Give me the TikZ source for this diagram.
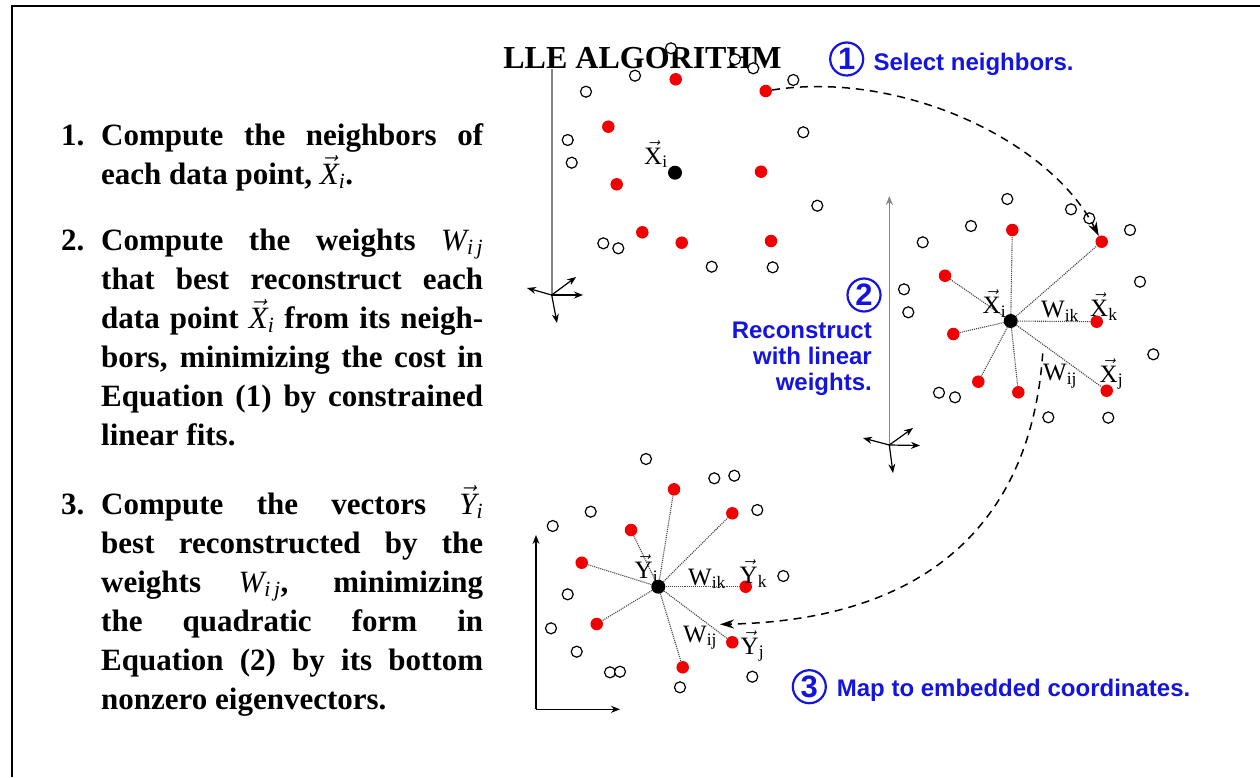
\RequirePackage{fix-cm}
\documentclass[tikz,border=0pt]{standalone}
\usepackage{amsmath}
\usepackage{fontspec}
\setmainfont{Liberation Serif}
\setsansfont{Liberation Sans}
\usepackage{xcolor}
\usepackage{tikz}
\usetikzlibrary{arrows.meta}
\definecolor{lleblue}{HTML}{1414E0}
\definecolor{llered}{HTML}{F00000}
\definecolor{bk70}{HTML}{454545}
\definecolor{bk50}{HTML}{858585}
\newcommand{\vlab}[2]{$\vec{\textnormal{#1}}_{\textnormal{#2}}$}
\newcommand{\wlab}[1]{W$_{\textnormal{#1}}$}
\newcommand{\vit}[2]{$\vec{\textnormal{\mdseries\itshape #1}}_{\textnormal{\mdseries\itshape #2}}$}
\newcommand{\wit}{$\textnormal{\mdseries\itshape W}_{\textnormal{\mdseries\itshape i\,j}}$}
\tikzset{
  opendot/.style={
    circle, draw=black, fill=white, line width=1.2pt,
    minimum size=11pt, inner sep=0pt
  },
  reddot/.style={
    circle, fill=llered, minimum size=12.5pt, inner sep=0pt
  },
  centerdot/.style={
    circle, fill=black, minimum size=14pt, inner sep=0pt
  },
  wline/.style={
    densely dotted, line width=1.1pt, color=bk70
  },
  axisline/.style={
    line width=1.6pt, color=bk50
  },
  axisarrow/.style={
    -{Stealth[length=9pt, width=7pt]}, line width=1.2pt
  },
  flowarrow/.style={
    dash pattern=on 8pt off 6pt, line width=1.5pt,
    -{Stealth[length=14pt, width=9pt]}
  },
  ptlabel/.style={
    anchor=base west, inner sep=0pt, font=\fontsize{25}{25}\selectfont
  },
  itemnum/.style={
    anchor=base west, inner sep=0pt,
    font=\bfseries\fontsize{31}{39}\selectfont
  },
  itembody/.style={
    anchor=base west, inner sep=0pt, text width=382pt, align=justify,
    font=\bfseries\fontsize{31}{39}\selectfont
  },
  steptext/.style={
    anchor=base west, inner sep=0pt, text=lleblue,
    font=\sffamily\bfseries\fontsize{24}{26}\selectfont
  },
  stepnum/.style={
    circle, draw=lleblue, line width=2.2pt, text=lleblue,
    minimum size=33pt, inner sep=0pt,
    font=\sffamily\bfseries\fontsize{31}{31}\selectfont
  },
}

\begin{document}
\begin{tikzpicture}[x=1pt, y=-1pt]
  \useasboundingbox (0,0) rectangle (1260,777);

  % frame (top and left edge only)
  \draw[line width=2.5pt] (12,777) -- (12,6) -- (1260,6);

  % left column: the three steps
  \node[itemnum] (n1) at (61,145) {1.};
  \node[itembody] (t1) at (101,145)
    {Compute the neighbors of\linebreak each data point, \vit{X}{i}.};
  \node[itemnum] (n2) at (61,250) {2.};
  \node[itembody] (t2) at (101,250)
    {Compute the weights \wit\linebreak that best reconstruct each\linebreak
     data point \vit{X}{i} from its neigh-\linebreak bors, minimizing the cost in\linebreak
     Equation (1) by constrained\linebreak linear fits.};
  \node[itemnum] (n3) at (61,514) {3.};
  \node[itembody] (t3) at (101,514)
    {Compute the vectors \vit{Y}{i}\linebreak best reconstructed by the\linebreak
     weights \wit, minimizing\linebreak the quadratic form in\linebreak
     Equation (2) by its bottom\linebreak nonzero eigenvectors.};

  % axes, panel 1
  \coordinate (ax1) at (551.7,295);
  \coordinate (ax1top) at (551.7,47);
  \draw[axisline] (ax1) -- (ax1top);
  \draw[axisarrow] (ax1) -- (527,288);
  \draw[axisarrow] (ax1) -- (583,295);
  \draw[axisarrow] (ax1) -- (576,277);
  \draw[axisarrow] (ax1) -- (557,323);

  % axes, panel 2
  \coordinate (ax2) at (889.3,445);
  \coordinate (ax2top) at (889.3,196);
  \draw[axisline, -{Stealth[length=9pt, width=7pt]}] (ax2) -- (ax2top);
  \draw[axisarrow] (ax2) -- (863,438);
  \draw[axisarrow] (ax2) -- (920,445.5);
  \draw[axisarrow] (ax2) -- (913,428);
  \draw[axisarrow] (ax2) -- (893,473);

  % axes, panel 3
  \coordinate (ax3) at (536,709.3);
  \draw[axisarrow] (ax3) -- (536,535);
  \draw[axisarrow] (ax3) -- (620,709.3);

  % title
  \node[anchor=base, fill=white, inner sep=1pt,
        font=\bfseries\fontsize{32}{32}\selectfont] (title) at (642.5,68) {LLE ALGORITHM};

  % panel 1 points
  \foreach \x/\y [count=\n] in {671/48.3, 735/59.3, 753.3/68.3, 635/75.7, 586/91.7,
      793.3/80, 803.3/132.3, 567.7/140, 571.7/162.7, 817.3/205.7, 603.3/243.3,
      618.3/248.3, 711.7/266.7, 772.7/267.3}
    \node[opendot] (o1-\n) at (\x,\y) {};
  \foreach \x/\y [count=\n] in {675.7/79.3, 765.7/91, 608.3/126.7, 616.7/184.3,
      761/171.7, 642.3/232.3, 681.7/242.7, 771/241}
    \node[reddot] (r1-\n) at (\x,\y) {};
  \node[centerdot] (c1) at (675,172.7) {};
  \node[ptlabel] (x1i) at (644,164) {\vlab{X}{i}};

  % panel 2 points
  \foreach \x/\y [count=\n] in {1007.3/199, 1071/209.3, 1089.3/218.3, 971/226,
      922.7/242.3, 1130/230, 1140/281.7, 904/289.3, 908.3/312.3, 1153.3/354.3,
      939/392.7, 955/397.3, 1048.3/417.3, 1108.3/417.7}
    \node[opendot] (o2-\n) at (\x,\y) {};
  \node[centerdot] (c2) at (1010.7,321) {};
  \foreach \x/\y [count=\n] in {1012.3/230, 1101.7/241.7, 945/275.7, 1096.7/321.7,
      953.3/334, 978.3/381.7, 1018.3/392.3, 1106.7/390.7} {
    \node[reddot] (r2-\n) at (\x,\y) {};
    \draw[wline] (c2) -- (r2-\n);
  }
  \node[ptlabel] (x2i) at (982.5,313.5) {\vlab{X}{i}};
  \node[ptlabel] (w2k) at (1041,317.5) {\wlab{ik}};
  \node[ptlabel] (x2k) at (1090,316.5) {\vlab{X}{k}};
  \node[ptlabel] (w2j) at (1043,380.5) {\wlab{ij}};
  \node[ptlabel] (x2j) at (1099.5,382) {\vlab{X}{j}};

  % panel 3 points
  \foreach \x/\y [count=\n] in {646/459, 714.3/478.3, 734.3/475.7, 590.7/511.7,
      552.7/526, 757.3/510, 783.3/576, 567.7/594.3, 551/628.3, 576.7/651.7,
      610/672.3, 620/671.7, 752.3/676.7, 680/687.3}
    \node[opendot] (o3-\n) at (\x,\y) {};
  \node[centerdot] (c3) at (658.3,586.7) {};
  \foreach \x/\y [count=\n] in {674/489.3, 732.3/513.3, 631/530, 581.7/562.7,
      745.7/586.7, 596.7/624, 732.3/642.3, 682.7/667.3} {
    \node[reddot] (r3-\n) at (\x,\y) {};
    \draw[wline] (c3) -- (r3-\n);
  }
  \node[ptlabel] (y3i) at (634.5,578.5) {\vlab{Y}{i}};
  \node[ptlabel] (w3k) at (688,585) {\wlab{ik}};
  \node[ptlabel] (y3k) at (739.5,583.5) {\vlab{Y}{k}};
  \node[ptlabel] (w3j) at (683,642) {\wlab{ij}};
  \node[ptlabel] (y3j) at (740.5,654) {\vlab{Y}{j}};

  % dashed flow between panels
  \draw[flowarrow] (r1-2) .. controls (900,70) and (1050,140) .. (r2-2);
  \coordinate (mapstart) at (1042.7,353.3);
  \coordinate (mapend) at (720,624.3);
  \draw[flowarrow] (mapstart) .. controls (1032,510) and (940,620) .. (mapend);

  % blue step captions
  \node[stepnum] (s1) at (846.7,59) {1};
  \node[steptext] (s1t) at (873.3,70) {Select neighbors.};
  \node[stepnum] (s2) at (864,295) {2};
  \node[steptext, align=right, anchor=north east] (s2t) at (872,322)
    {Reconstruct\\with linear\\weights.};
  \node[stepnum] (s3) at (809.3,686.7) {3};
  \node[steptext] (s3t) at (836.7,696) {Map to embedded coordinates.};
\end{tikzpicture}
\end{document}
